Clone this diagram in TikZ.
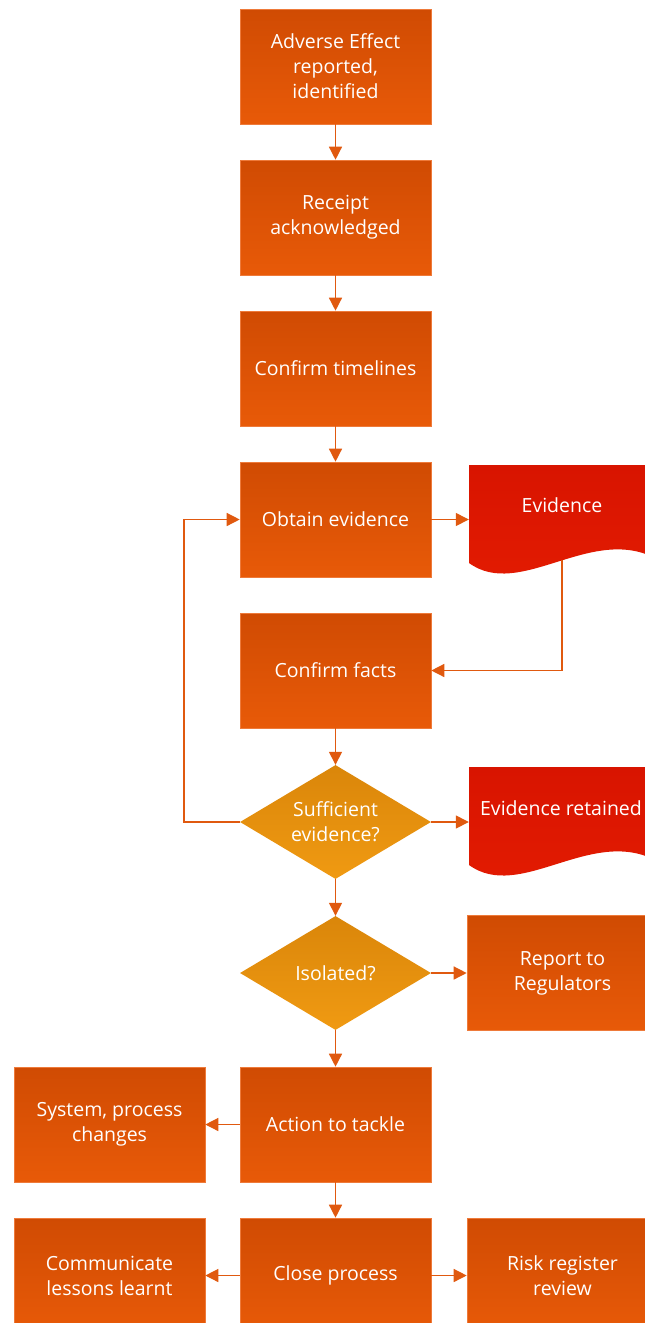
\documentclass[tikz,border=0pt]{standalone}
\usepackage{fontspec}
\setmainfont{Open Sans}
\usetikzlibrary{arrows.meta,shapes.geometric}
\definecolor{boxtop}{HTML}{D04B03}
\definecolor{boxbot}{HTML}{E85A08}
\definecolor{boxedge}{HTML}{EE7A3A}
\definecolor{diatop}{HTML}{DA860A}
\definecolor{diabot}{HTML}{F09A12}
\definecolor{doctop}{HTML}{D81400}
\definecolor{docbot}{HTML}{E41C02}
\definecolor{conncol}{HTML}{E0590F}
\begin{document}
\begin{tikzpicture}[x=1pt,y=-1pt,
  txt/.style={text=white, align=center, font=\fontsize{19.5}{25}\selectfont},
  stepbox/.style={txt, rectangle, minimum width=191pt, minimum height=115pt, inner sep=0pt,
    top color=boxtop, bottom color=boxbot, draw=boxedge, line width=0.6pt},
  decision/.style={txt, diamond, minimum width=191pt, minimum height=114pt, aspect=1.675, inner sep=0pt,
    top color=diatop, bottom color=diabot},
  docarea/.style={rectangle, minimum width=186pt, minimum height=98pt, inner sep=0pt},
  conn/.style={draw=conncol, line width=1.4pt, -{Triangle[length=13pt,width=13pt]}}
]
\useasboundingbox (0,0) rectangle (645,1323);
\clip (0,0) rectangle (645,1323);

% main column
\node[stepbox] (adverse) at (335.5,66.5) {Adverse Effect\\reported,\\identified};
\node[stepbox] (receipt) at (335.5,217.5) {Receipt\\acknowledged};
\node[stepbox] (timelines) at (335.5,368.5) {Confirm timelines};
\node[stepbox] (obtain) at (335.5,519.5) {Obtain evidence};
\node[stepbox] (facts) at (335.5,670.5) {Confirm facts};
\node[decision] (suff) at (335.5,822) {Sufficient\\evidence?};
\node[decision] (isol) at (335.5,973) {Isolated?};
\node[stepbox] (action) at (335.5,1124.5) {Action to tackle};
\node[stepbox] (close) at (335.5,1275.5) {Close process};

% side boxes
\node[stepbox] (report) at (562.5,973) {Report to\\Regulators};
\node[stepbox] (system) at (109.5,1124.5) {System, process\\changes};
\node[stepbox] (comm) at (109.5,1275.5) {Communicate\\lessons learnt};
\node[stepbox] (risk) at (562.5,1275.5) {Risk register\\review};

% documents
\shade[top color=doctop, bottom color=docbot]
  (469,465) -- (660,465) -- (660,556) -- (655,558) .. controls (590,525) and (520,600) .. (469,563) -- cycle;
\node[docarea] (evdoc) at (562,514) {};
\node[txt] (evtext) at (562,505) {Evidence};
\coordinate (evbottom) at (562,560);

\shade[top color=doctop, bottom color=docbot]
  (469,767) -- (660,767) -- (660,858) -- (655,860) .. controls (590,827) and (520,902) .. (469,865) -- cycle;
\node[docarea] (retdoc) at (562,816) {};
\node[txt] (rettext) at (561,808) {Evidence retained};

% connectors
\draw[conn] (adverse) -- (receipt);
\draw[conn] (receipt) -- (timelines);
\draw[conn] (timelines) -- (obtain);
\draw[conn] (facts) -- (suff);
\draw[conn] (suff) -- (isol);
\draw[conn] (isol) -- (action);
\draw[conn] (action) -- (close);
\draw[conn] (obtain.east) -- (obtain.east -| evdoc.west);
\draw[conn] (evbottom) |- (facts.east);
\draw[conn] (suff.west) -- ++(-56,0) |- (obtain.west);
\draw[conn] (suff.east) -- (suff.east -| retdoc.west);
\draw[conn] (isol.east) -- (report.west);
\draw[conn] (action.west) -- (system.east);
\draw[conn] (close.west) -- (comm.east);
\draw[conn] (close.east) -- (risk.west);
\end{tikzpicture}
\end{document}
